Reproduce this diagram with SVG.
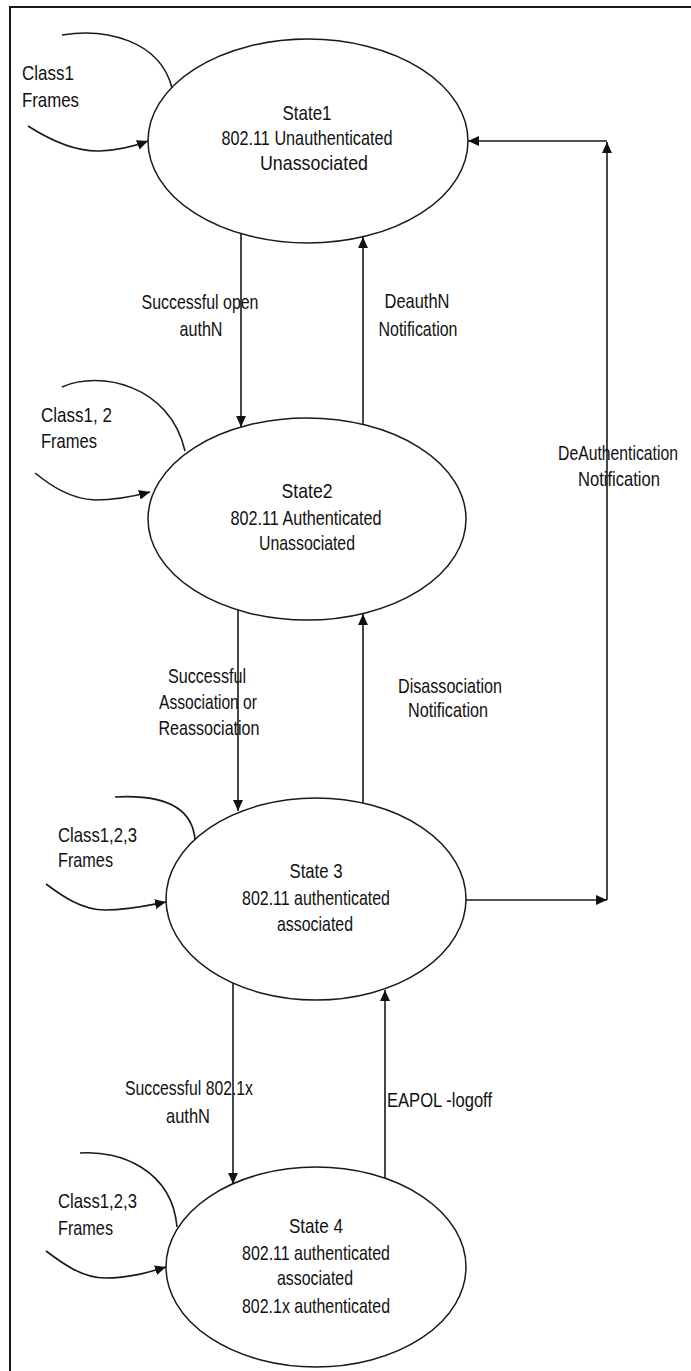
<svg xmlns="http://www.w3.org/2000/svg" width="691" height="1371" viewBox="0 0 691 1371">
  <style>
    .bg { fill: #ffffff; }
    .frame { stroke: #1a1a1a; stroke-width: 2; fill: none; }
    .state { fill: #ffffff; stroke: #1a1a1a; stroke-width: 1.5; }
    .edge { fill: none; stroke: #1a1a1a; stroke-width: 1.6; }
    .t { font-family: "Liberation Sans", Arial, sans-serif; font-size: 21px; fill: #111111; }
    .m { text-anchor: middle; }
  </style>
  <defs>
    <marker id="arrow" viewBox="0 0 10 10" refX="10" refY="5" markerWidth="11" markerHeight="11" markerUnits="userSpaceOnUse" orient="auto">
      <path d="M0,0.5 L10,5 L0,9.5 Z" fill="#111111"/>
    </marker>
  </defs>

  <rect class="bg" x="0" y="0" width="691" height="1371"/>

  <!-- page frame (top and left edges) -->
  <path class="frame" d="M10,1371 L10,7 L691,7"/>

  <!-- states -->
  <g id="state1">
    <ellipse class="state" cx="308" cy="141" rx="160" ry="102"/>
    <text class="t m" x="307" y="120" textLength="49" lengthAdjust="spacingAndGlyphs">State1</text>
    <text class="t m" x="307" y="145" textLength="171" lengthAdjust="spacingAndGlyphs">802.11 Unauthenticated</text>
    <text class="t m" x="314" y="170" textLength="108" lengthAdjust="spacingAndGlyphs">Unassociated</text>
  </g>

  <g id="state2">
    <ellipse class="state" cx="307" cy="519" rx="159" ry="101"/>
    <text class="t m" x="307" y="498" textLength="51" lengthAdjust="spacingAndGlyphs">State2</text>
    <text class="t m" x="306" y="525" textLength="151" lengthAdjust="spacingAndGlyphs">802.11 Authenticated</text>
    <text class="t m" x="307" y="550" textLength="96" lengthAdjust="spacingAndGlyphs">Unassociated</text>
  </g>

  <g id="state3">
    <ellipse class="state" cx="316" cy="899" rx="150" ry="101"/>
    <text class="t m" x="316" y="878" textLength="53" lengthAdjust="spacingAndGlyphs">State 3</text>
    <text class="t m" x="316" y="905" textLength="148" lengthAdjust="spacingAndGlyphs">802.11 authenticated</text>
    <text class="t m" x="315" y="931" textLength="76" lengthAdjust="spacingAndGlyphs">associated</text>
  </g>

  <g id="state4">
    <ellipse class="state" cx="316" cy="1267" rx="150" ry="100"/>
    <text class="t m" x="316" y="1233" textLength="54" lengthAdjust="spacingAndGlyphs">State 4</text>
    <text class="t m" x="316" y="1260" textLength="148" lengthAdjust="spacingAndGlyphs">802.11 authenticated</text>
    <text class="t m" x="315" y="1285" textLength="76" lengthAdjust="spacingAndGlyphs">associated</text>
    <text class="t m" x="316" y="1313" textLength="148" lengthAdjust="spacingAndGlyphs">802.1x authenticated</text>
  </g>

  <!-- transitions -->
  <g id="connectors">
    <!-- self loops -->
    <path class="edge" d="M62,35 C105,28 160,40 172,88"/>
    <path class="edge" d="M28,126 C50,140 75,152 100,151 C120,150 135,146 148,141" marker-end="url(#arrow)"/>

    <path class="edge" d="M62,387 C100,370 170,385 185,451"/>
    <path class="edge" d="M35,473 C50,485 70,499 95,500 C118,500 135,496 150,492" marker-end="url(#arrow)"/>

    <path class="edge" d="M115,797 C150,795 192,800 195,840"/>
    <path class="edge" d="M46,884 C62,896 82,910 105,910 C130,910 150,905 166,902" marker-end="url(#arrow)"/>

    <path class="edge" d="M80,1153 C120,1150 172,1170 177,1227"/>
    <path class="edge" d="M46,1251 C62,1263 82,1278 105,1278 C130,1278 150,1272 166,1267" marker-end="url(#arrow)"/>

    <!-- state to state -->
    <path class="edge" d="M241,234 L241,427" marker-end="url(#arrow)"/>
    <path class="edge" d="M363,425 L363,237" marker-end="url(#arrow)"/>
    <path class="edge" d="M238,610 L238,811" marker-end="url(#arrow)"/>
    <path class="edge" d="M363,803 L363,614" marker-end="url(#arrow)"/>
    <path class="edge" d="M233,983 L233,1184" marker-end="url(#arrow)"/>
    <path class="edge" d="M385,1178 L385,990" marker-end="url(#arrow)"/>

    <!-- deauthentication return path -->
    <path class="edge" d="M466,900 L607,900" marker-end="url(#arrow)"/>
    <path class="edge" d="M607,900 L607,142" marker-end="url(#arrow)"/>
    <path class="edge" d="M607,141 L468,141" marker-end="url(#arrow)"/>

    <!-- labels -->
    <text class="t" x="22" y="80" textLength="52" lengthAdjust="spacingAndGlyphs">Class1</text>
    <text class="t" x="22" y="107" textLength="57" lengthAdjust="spacingAndGlyphs">Frames</text>

    <text class="t m" x="200" y="309" textLength="117" lengthAdjust="spacingAndGlyphs">Successful open</text>
    <text class="t m" x="201" y="336" textLength="43" lengthAdjust="spacingAndGlyphs">authN</text>

    <text class="t m" x="417" y="308" textLength="65" lengthAdjust="spacingAndGlyphs">DeauthN</text>
    <text class="t m" x="418" y="336" textLength="79" lengthAdjust="spacingAndGlyphs">Notification</text>

    <text class="t" x="41" y="422" textLength="71" lengthAdjust="spacingAndGlyphs">Class1, 2</text>
    <text class="t" x="41" y="448" textLength="56" lengthAdjust="spacingAndGlyphs">Frames</text>

    <text class="t m" x="207" y="683" textLength="78" lengthAdjust="spacingAndGlyphs">Successful</text>
    <text class="t m" x="208" y="709" textLength="98" lengthAdjust="spacingAndGlyphs">Association or</text>
    <text class="t m" x="209" y="735" textLength="101" lengthAdjust="spacingAndGlyphs">Reassociation</text>

    <text class="t m" x="450" y="693" textLength="104" lengthAdjust="spacingAndGlyphs">Disassociation</text>
    <text class="t m" x="448" y="717" textLength="80" lengthAdjust="spacingAndGlyphs">Notification</text>

    <text class="t m" x="618" y="460" textLength="120" lengthAdjust="spacingAndGlyphs">DeAuthentication</text>
    <text class="t m" x="619" y="486" textLength="82" lengthAdjust="spacingAndGlyphs">Notification</text>

    <text class="t" x="58" y="842" textLength="79" lengthAdjust="spacingAndGlyphs">Class1,2,3</text>
    <text class="t" x="58" y="867" textLength="55" lengthAdjust="spacingAndGlyphs">Frames</text>

    <text class="t m" x="189" y="1095" textLength="128" lengthAdjust="spacingAndGlyphs">Successful 802.1x</text>
    <text class="t m" x="188" y="1123" textLength="44" lengthAdjust="spacingAndGlyphs">authN</text>

    <text class="t" x="387" y="1107" textLength="105" lengthAdjust="spacingAndGlyphs">EAPOL -logoff</text>

    <text class="t" x="58" y="1208" textLength="79" lengthAdjust="spacingAndGlyphs">Class1,2,3</text>
    <text class="t" x="58" y="1235" textLength="55" lengthAdjust="spacingAndGlyphs">Frames</text>
  </g>
</svg>
